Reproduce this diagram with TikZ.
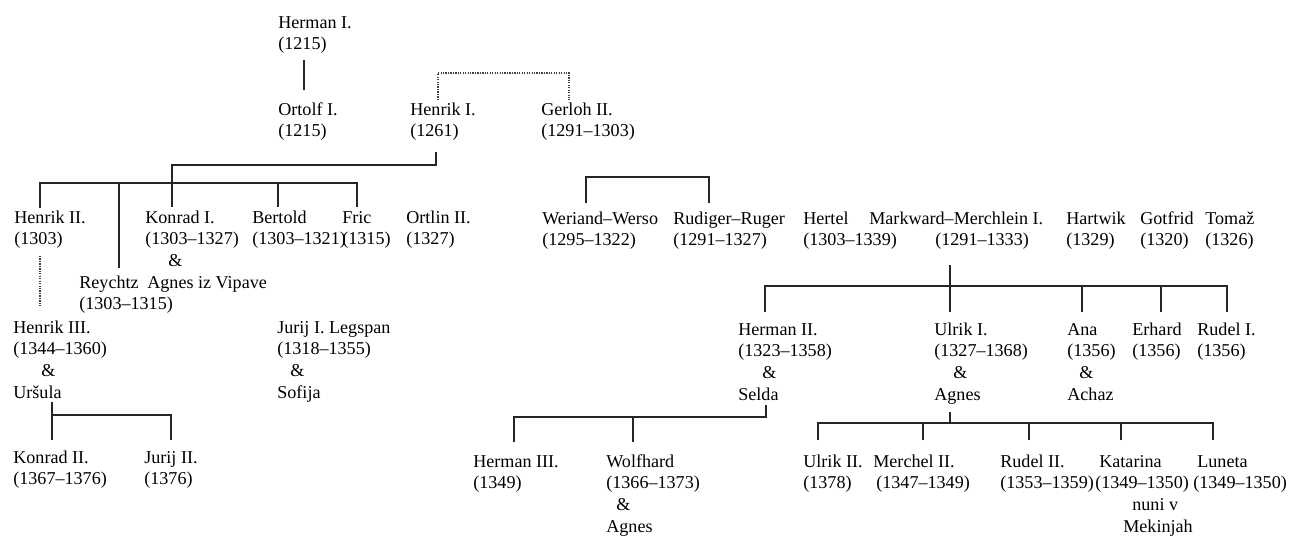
\documentclass[tikz,border=0pt]{standalone}
\usepackage{fontspec}
\setmainfont{Liberation Serif}
\newlength\pxu \setlength\pxu{0.02cm}
\newcommand\ind[1]{\hspace*{#1\pxu}}

\begin{document}
\begin{tikzpicture}[x=0.02cm, y=-0.02cm,
    every node/.style={font=\fontsize{10.3}{12.45}\selectfont},
    person/.style={anchor=base west, align=left, inner sep=0pt, yshift={-(#1-1)*12.45pt}},
    person/.default=2,
    kin/.style={line width=1pt, draw=black!85},
    kinfaint/.style={line width=0.9pt, draw=black!75, dash pattern=on 0.7pt off 0.7pt}]
  \useasboundingbox (0,0) rectangle (1302,535);

  % first generations
  \node[person] (herI)  at (278,28)  {Herman I.\\(1215)};
  \node[person] (ortI)  at (278,115) {Ortolf I.\\(1215)};
  \node[person] (henI)  at (410,115) {Henrik I.\\(1261)};
  \node[person] (gerII) at (541,115) {Gerloh II.\\(1291–1303)};

  % children of Henrik I.
  \node[person] (henII)  at (14,223)  {Henrik II.\\(1303)};
  \node[person=4] (konI) at (145,223) {Konrad I.\\(1303–1327)\\\ind{23}\&\\\ind{2}Agnes iz Vipave};
  \node[person] (reyc)   at (79,288)  {Reychtz\\(1303–1315)};
  \node[person] (bert)   at (252,223) {Bertold\\(1303–1321)};
  \node[person] (fric)   at (342,223) {Fric\\(1315)};
  \node[person] (ortlII) at (406,223) {Ortlin II.\\(1327)};

  \node[person=4] (henIII) at (13,333)  {Henrik III.\\(1344–1360)\\\ind{28}\&\\Uršula};
  \node[person=4] (jurI)   at (277,333) {Jurij I. Legspan\\(1318–1355)\\\ind{13}\&\\Sofija};
  \node[person] (konII)  at (13,463)  {Konrad II.\\(1367–1376)};
  \node[person] (jurII)  at (144,463) {Jurij II.\\(1376)};

  % children of Gerloh II.
  \node[person] (wer)   at (542,224)  {Weriand–Werso\\(1295–1322)};
  \node[person] (rud)   at (673,224)  {Rudiger–Ruger\\(1291–1327)};
  \node[person] (hert)  at (803,224)  {Hertel\\(1303–1339)};
  \node[person] (mark)  at (869,224)  {Markward–Merchlein I.\\\ind{66}(1291–1333)};
  \node[person] (hartw) at (1066,224) {Hartwik\\(1329)};
  \node[person] (gotf)  at (1140,224) {Gotfrid\\(1320)};
  \node[person] (tomaz) at (1205,224) {Tomaž\\(1326)};

  % children of Markward
  \node[person=4] (hermII) at (738,335)  {Herman II.\\(1323–1358)\\\ind{24}\&\\Selda};
  \node[person=4] (ulrI)   at (934,335)  {Ulrik I.\\(1327–1368)\\\ind{19}\&\\Agnes};
  \node[person=4] (ana)    at (1067,335) {Ana\\(1356)\\\ind{12}\&\\Achaz};
  \node[person] (erh)    at (1132,335) {Erhard\\(1356)};
  \node[person] (rudI)   at (1197,335) {Rudel I.\\(1356)};

  % grandchildren
  \node[person] (hermIII) at (473,467)  {Herman III.\\(1349)};
  \node[person=4] (wolf)  at (606,467)  {Wolfhard\\(1366–1373)\\\ind{10}\&\\Agnes};
  \node[person] (ulrII)   at (803,467)  {Ulrik II.\\(1378)};
  \node[person] (merII)   at (873,467)  {Merchel II.\\\ind{3}(1347–1349)};
  \node[person] (rudII)   at (1000,467) {Rudel II.\\(1353–1359)};
  \node[person=4] (kat)   at (1095,467) {\ind{4}Katarina\\(1349–1350)\\\ind{37}nuni v\\\ind{28}Mekinjah};
  \node[person] (lun)     at (1193,467) {\ind{4}Luneta\\(1349–1350)};

  % junction points
  \coordinate (herI-dn)   at (304,60);   \coordinate (ortI-up)   at (304,90);
  \coordinate (henI-up)   at (438,100);  \coordinate (gerII-up)  at (569,100);
  \coordinate (henI-dn)   at (436,152);  \coordinate (konI-up)   at (172,207);
  \coordinate (henII-up)  at (40,208);   \coordinate (reyc-up)   at (119,268);
  \coordinate (bert-up)   at (278,207);  \coordinate (fric-up)   at (357,207);
  \coordinate (henII-dn)  at (40,256);   \coordinate (henIII-up) at (40,307);
  \coordinate (urs-dn)    at (52,402);   \coordinate (konII-up)  at (52,440);
  \coordinate (jurII-up)  at (171,440);
  \coordinate (wer-up)    at (586,203);  \coordinate (rud-up)    at (709,203);
  \coordinate (mark-dn)   at (950,265);  \coordinate (ulrI-up)   at (950,312);
  \coordinate (hermII-up) at (765,312);  \coordinate (ana-up)    at (1082,312);
  \coordinate (erh-up)    at (1161,312); \coordinate (rudI-up)   at (1227,312);
  \coordinate (selda-dn)  at (766,405);  \coordinate (hermIII-up) at (514,442);
  \coordinate (wolf-up)   at (633,442);
  \coordinate (agn-dn)    at (950,412);  \coordinate (ulrII-up)  at (818,440);
  \coordinate (merII-up)  at (923,440);  \coordinate (rudII-up)  at (1029,440);
  \coordinate (kat-up)    at (1121,440); \coordinate (lun-up)    at (1213,440);

  % connectors
  \draw[kin] (herI-dn) -- (ortI-up);
  \draw[kinfaint] (henI-up) |- (569,73) -- (gerII-up);

  \draw[kin] (henI-dn) |- (172,165) -- (konI-up);
  \draw[kin] (henII-up) -- (40,183) -| (fric-up);
  \draw[kin] (reyc-up) -- (119,183);
  \draw[kin] (bert-up) -- (278,183);
  \draw[kinfaint] (henII-dn) -- (henIII-up);
  \draw[kin] (urs-dn) -- (konII-up);
  \draw[kin] (52,415) -| (jurII-up);

  \draw[kin] (wer-up) |- (709,177) -- (rud-up);

  \draw[kin] (mark-dn) -- (ulrI-up);
  \draw[kin] (hermII-up) -- (765,286) -| (rudI-up);
  \draw[kin] (ana-up) -- (1082,286);
  \draw[kin] (erh-up) -- (1161,286);

  \draw[kin] (selda-dn) |- (514,417) -- (hermIII-up);
  \draw[kin] (wolf-up) -- (633,417);

  \draw[kin] (agn-dn) -- (950,423);
  \draw[kin] (ulrII-up) -- (818,423) -| (lun-up);
  \draw[kin] (merII-up) -- (923,423);
  \draw[kin] (rudII-up) -- (1029,423);
  \draw[kin] (kat-up) -- (1121,423);
\end{tikzpicture}
\end{document}
